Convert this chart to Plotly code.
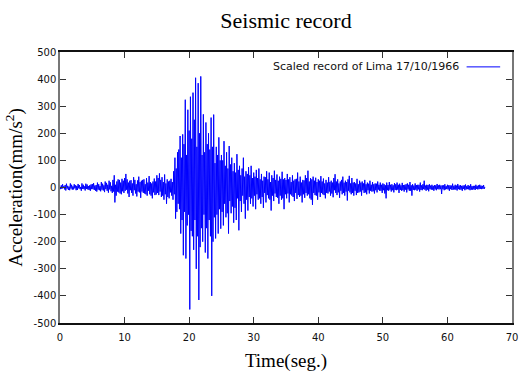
import numpy as np
import plotly.graph_objects as go

dt = 0.1
accel = [
    # 0.0 - 4.9 s
    3, -6, 8, -5, 12, -2, 5, -7, 9, -11, 14, -4, 6, -9, 3, -10, 15, -4, 10, -8,
    4, -7, 12, -3, 8, -10, 6, -9, 13, -3, 9, -6, 2, -12, 15, -5, 10, -6, 4, -11,
    14, -5, 11, -7, 5, -9, 8, -12, 11, -6,
    # 5.0 - 9.9 s
    13, -6, 16, -9, 7, -12, 9, -15, 18, -8, 12, -10, 5, -14, 20, -8, 14, -11, 8, -17,
    22, -6, 17, -12, 10, -19, 25, -7, 19, -14, 6, -20, 28, -15, 45, -55, 10, -30, 22, -15,
    30, -18, 28, -22, 18, -25, 32, -14, 25, -20,
    # 10.0 - 14.9 s
    35, -12, 50, -8, 30, -22, 18, -35, 25, -10, 27, -20, 15, -30, 38, -10, 28, -22, 12, -33,
    26, -15, 40, -18, 20, -38, 25, -15, 28, -20, 30, -22, 12, -25, 35, -30, 18, -12, 42, -25,
    20, -30, 15, -40, 22, -18, 33, -28, 22, -26,
    # 15.0 - 19.9 s
    45, -20, 35, -28, 52, -15, 28, -35, 38, -30, 20, -45, 48, -25, 15, -60, 30, -35, 22, -40,
    25, -18, 32, -30, 20, -45, 60, -25, 110, -115, 70, -90, 130, -60, 140, -80, 190, -170, 110, -120,
    196, -250, 160, -90, 324, -262, 120, -140, 287, -100,
    # 20.0 - 24.9 s
    210, -450, 335, -160, 180, -180, 350, -230, 250, -120, 405, -300, 150, -180, 385, -415, 200, -220, 410, -150,
    120, -200, 270, -100, 130, -240, 240, -150, 160, -262, 200, -120, 140, -180, 258, -400, 150, -200, 269, -110,
    90, -188, 150, -100, 120, -170, 185, -80, 100, -152,
    # 25.0 - 29.9 s
    120, -90, 100, -140, 171, -60, 80, -110, 130, -95, 70, -170, 153, -50, 85, -95, 110, -70, 60, -130,
    90, -75, 55, -120, 123, -40, 65, -158, 80, -50, 45, -90, 70, -30, 110, -60, 40, -115, 60, -45,
    50, -85, 75, -35, 45, -60, 80, -40, 35, -70,
    # 30.0 - 34.9 s
    55, -30, 40, -80, 65, -25, 35, -45, 70, -40, 30, -60, 50, -35, 25, -75, 40, -20, 38, -55,
    60, -28, 30, -40, 55, -45, 20, -85, 45, -30, 35, -50, 62, -22, 28, -35, 48, -38, 25, -60,
    40, -30, 32, -45, 58, -40, 30, -80, 35, -25,
    # 35.0 - 39.9 s
    28, -40, 50, -22, 30, -55, 38, -25, 20, -30, 45, -35, 25, -50, 30, -20, 32, -42, 55, -28,
    22, -35, 40, -30, 18, -55, 28, -25, 26, -38, 45, -20, 35, -30, 62, -25, 22, -40, 35, -45,
    30, -64, 40, -20, 25, -28, 36, -30, 20, -45,
    # 40.0 - 44.9 s
    30, -18, 25, -35, 42, -20, 22, -25, 33, -28, 15, -40, 28, -20, 18, -22, 38, -15, 20, -30,
    25, -22, 18, -36, 35, -10, 49, -20, 22, -28, 30, -18, 15, -38, 22, -12, 28, -25, 40, -20,
    18, -30, 25, -15, 20, -48, 30, -12, 43, -18,
    # 45.0 - 49.9 s
    15, -25, 35, -20, 18, -30, 20, -12, 15, -28, 32, -20, 12, -18, 25, -15, 18, -30, 22, -10,
    15, -20, 28, -18, 12, -25, 18, -10, 14, -22, 25, -12, 10, -15, 20, -14, 12, -22, 15, -10,
    14, -18, 22, -8, 10, -12, 18, -12, 10, -20,
    # 50.0 - 54.9 s
    15, -10, 12, -22, 8, -40, 18, -10, 9, -12, 20, -8, 10, -15, 12, -10, 8, -18, 16, -9,
    12, -10, 18, -8, 10, -20, 14, -9, 8, -12, 17, -10, 9, -15, 10, -8, 12, -18, 15, -7,
    10, -12, 20, -12, 8, -30, 12, -9, 7, -10,
    # 55.0 - 59.9 s
    15, -8, 9, -12, 10, -7, 10, -15, 18, -9, 8, -10, 12, -6, 25, -8, 7, -12, 10, -8,
    9, -14, 12, -6, 7, -8, 10, -8, 6, -12, 9, -7, 8, -10, 13, -6, 8, -7, 10, -6,
    7, -24, 8, -6, 8, -10, 12, -7, 5, -6,
    # 60.0 - 64.9 s
    10, -7, 8, -12, 8, -6, 7, -9, 14, -8, 6, -7, 10, -8, 7, -11, 13, -6, 7, -8,
    9, -8, 6, -12, 7, -5, 8, -10, 11, -7, 5, -6, 9, -7, 6, -10, 12, -8, 5, -8,
    6, -7, 6, -9, 10, -5, 6, -7, 8, -6,
    # 65.0 - 65.8 s
    10, -5, 7, -6, 6, -5, 9, -5, 2,
]
time = np.arange(len(accel)) * dt

title_text = "Seismic record"
x_title = "Time(seg.)"
y_title = "Acceleration(mm/s<sup>2</sup>)"
legend_text = "Scaled record of Lima 17/10/1966"
x_ticks = [0, 10, 20, 30, 40, 50, 60, 70]
y_ticks = [500, 400, 300, 200, 100, 0, -100, -200, -300, -400, -500]

W, H = 526, 376
L, R, T, B = 60, 518, 52, 325

fig = go.Figure()
fig.add_trace(go.Scatter(
    x=time, y=accel, mode="lines",
    line=dict(color="#0000ff", width=1),
    name=legend_text, showlegend=False,
))

serif = "Liberation Serif, Times New Roman, serif"
sans = "DejaVu Sans, Verdana, sans-serif"

# gnuplot-style key: text, then line sample to the right
key_y = 1 - (67 - T) / (B - T)
fig.add_annotation(
    xref="paper", yref="paper", x=(466 - L) / (R - L), y=key_y,
    text=legend_text, showarrow=False, xanchor="right", yanchor="middle",
    font=dict(family=sans, size=11, color="#111111"),
)
fig.add_shape(
    type="line", xref="paper", yref="paper",
    x0=(472 - L) / (R - L), x1=(506 - L) / (R - L), y0=key_y, y1=key_y,
    line=dict(color="#0000ff", width=1),
)

fig.update_layout(
    width=W, height=H,
    margin=dict(l=L, r=W - R, t=T, b=H - B, pad=0),
    paper_bgcolor="white", plot_bgcolor="white",
    title=dict(text=title_text, x=0.5, xref="paper", xanchor="center",
               y=1 - 20 / H, yref="container", yanchor="middle",
               font=dict(family=serif, size=22, color="#000000")),
    showlegend=False,
)
fig.update_xaxes(
    range=[0, 70], tickvals=x_ticks, ticktext=[str(v) for v in x_ticks],
    ticks="inside", ticklen=6, tickwidth=1, tickcolor="#333333",
    showline=True, linecolor="#111111", linewidth=1.5, mirror="ticks",
    showgrid=False, zeroline=False, ticklabelstandoff=4,
    tickfont=dict(family=sans, size=10, color="#111111"),
    title=dict(text=x_title, font=dict(family=serif, size=19, color="#000000"), standoff=12),
)
fig.update_yaxes(
    range=[-500, 500], tickvals=y_ticks, ticktext=[str(v) for v in y_ticks],
    ticks="inside", ticklen=6, tickwidth=1, tickcolor="#333333",
    showline=True, linecolor="#777777", linewidth=1.5, mirror="ticks",
    showgrid=False, zeroline=False,
    tickfont=dict(family=sans, size=10, color="#111111"),
    title=dict(text=y_title, font=dict(family=serif, size=19, color="#000000"), standoff=6),
)

fig.write_html("out.html")
